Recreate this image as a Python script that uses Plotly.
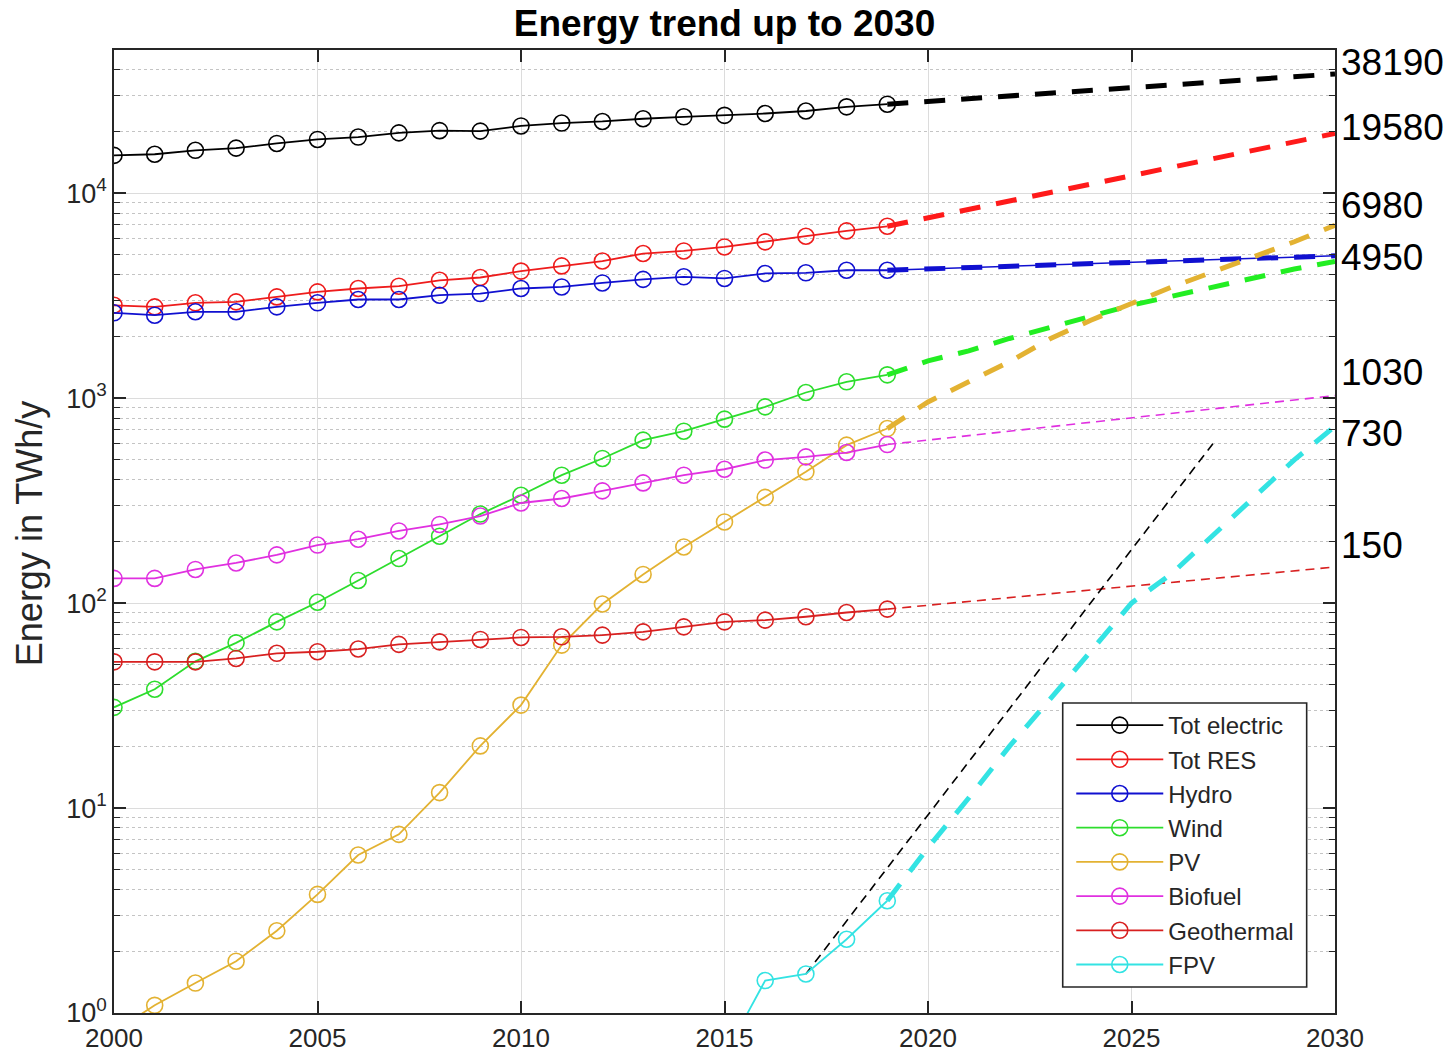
import numpy as np
import plotly.graph_objects as go

# ---- measured data (TWh/y) ----
years = list(range(2000, 2020))
tot_electric = [15300, 15500, 16200, 16600, 17500, 18300, 18800, 19700, 20200, 20100,
                21300, 22000, 22400, 23100, 23600, 24000, 24500, 25200, 26400, 27200]
tot_res = [2840, 2790, 2920, 2950, 3120, 3300, 3430, 3520, 3760, 3880,
           4170, 4420, 4670, 5080, 5230, 5470, 5790, 6170, 6550, 6900]
hydro = [2610, 2540, 2640, 2640, 2790, 2920, 3030, 3030, 3180, 3240,
         3430, 3490, 3650, 3800, 3910, 3840, 4060, 4090, 4210, 4210]
wind = [31, 38, 52, 64, 81, 101, 129, 165, 212, 272,
        336, 421, 508, 624, 690, 790, 907, 1066, 1202, 1300]
pv = [0.81, 1.09, 1.40, 1.79, 2.52, 3.79, 5.9, 7.44, 11.9, 20.1,
      31.8, 62.4, 99, 138, 188, 249, 328, 437, 590, 711]
biofuel = [132, 132, 146, 157, 172, 192, 205, 225, 242, 266,
           308, 324, 353, 386, 421, 450, 499, 517, 543, 594]
geothermal = [51.7, 51.7, 51.7, 53.7, 56.9, 57.9, 59.7, 62.9, 64.7, 66.5,
              68, 68.5, 69.8, 72.4, 76.6, 81, 82.6, 85.8, 90, 93.5]
fpv_years = [2015, 2016, 2017, 2018, 2019]
fpv = [0.62, 1.44, 1.55, 2.29, 3.53]

# ---- projections to 2030 ----
end_years = [2019, 2030]
tot_electric_2030 = 38190
tot_res_2030 = 19580
hydro_2030 = 4950
biofuel_2030 = 1030
geothermal_2030 = 150

proj_years = list(range(2019, 2031))
wind_proj = [1300, 1521, 1702, 1956, 2213, 2512, 2843, 3146, 3494, 3880, 4270, 4650]
pv_proj = [711, 959, 1202, 1504, 1950, 2400, 2897, 3494, 4131, 4887, 5800, 6980]
fpv_proj = [3.53, 6.4, 11.2, 20, 34, 58, 100, 140, 215, 330, 500, 730]

# exponential FPV trend line
fpv_trend_years = [2017, 2027]
fpv_trend = [1.55, 600]

# values printed at the right edge
end_labels = [38190, 19580, 6980, 4950, 1030, 730, 150]
end_label_shift = [11, 6, 20, -2, 23, -7, 22]

FONT = "Liberation Sans, Arial, sans-serif"
AX = "#262626"

C_BLACK = "#000000"
C_RES = "#ee1c1c"
C_HYDRO = "#1010d0"
C_WIND = "#2ddd2d"
C_PV = "#e3b232"
C_BIO = "#e030e0"
C_GEO = "#d82020"
C_FPV = "#33e3e3"

fig = go.Figure()

# projections (drawn first, below the measured series)
def proj(x, y, color, width, dash):
    fig.add_trace(go.Scatter(x=x, y=y, mode="lines", showlegend=False,
                             line=dict(color=color, width=width, dash=dash),
                             hoverinfo="skip"))

THICK = "21px,16px"
THIN = "9px,6px"
proj(end_years, [tot_electric[-1], tot_electric_2030], C_BLACK, 5, THICK)
proj(end_years, [tot_res[-1], tot_res_2030], "#ff1a1a", 5, THICK)
proj(end_years, [hydro[-1], hydro_2030], C_HYDRO, 1.5, "solid")
proj(end_years, [hydro[-1], hydro_2030], C_HYDRO, 5, THICK)
proj(proj_years, wind_proj, "#22ee22", 5, THICK)
proj(proj_years, pv_proj, C_PV, 5, THICK)
proj(end_years, [biofuel[-1], biofuel_2030], C_BIO, 1.6, THIN)
proj(end_years, [geothermal[-1], geothermal_2030], C_GEO, 1.6, THIN)
proj(proj_years, fpv_proj, C_FPV, 5, THICK)
proj(fpv_trend_years, fpv_trend, C_BLACK, 1.6, THIN)

# measured series
def series(name, x, y, color):
    fig.add_trace(go.Scatter(
        x=x, y=y, mode="lines+markers", name=name,
        line=dict(color=color, width=1.8),
        marker=dict(symbol="circle-open", size=16, color=color,
                    line=dict(width=1.6, color=color)),
    ))

series("Tot electric", years, tot_electric, C_BLACK)
series("Tot RES", years, tot_res, C_RES)
series("Hydro", years, hydro, C_HYDRO)
series("Wind", years, wind, C_WIND)
series("PV", years, pv, C_PV)
series("Biofuel", years, biofuel, C_BIO)
series("Geothermal", years, geothermal, C_GEO)
series("FPV", fpv_years, fpv, C_FPV)

for val, dy in zip(end_labels, end_label_shift):
    fig.add_annotation(x=1, xref="paper", xanchor="left", xshift=4,
                       y=np.log10(val), yref="y", yanchor="middle", yshift=dy,
                       text=str(val), showarrow=False,
                       font=dict(family=FONT, size=37, color="#000000"))

fig.add_annotation(x=-0.069, xref="paper", y=0.498, yref="paper",
                   text="Energy in TWh/y", textangle=-90, showarrow=False,
                   xanchor="center", yanchor="middle",
                   font=dict(family=FONT, size=36, color=AX))

# legend frame (the legend itself is drawn transparent on top of it)
LEG_X0, LEG_X1, LEG_Y0, LEG_Y1 = 0.777, 0.9768, 0.027, 0.3219
fig.add_shape(type="rect", xref="paper", yref="paper",
              x0=LEG_X0, x1=LEG_X1, y0=LEG_Y0, y1=LEG_Y1,
              line=dict(color=AX, width=1.6), fillcolor="white", layer="above")

minor_vals = [m * 10 ** d for d in range(5) for m in range(2, 10)]

fig.update_xaxes(
    range=[2000, 2030], tickvals=list(range(2000, 2031, 5)),
    ticks="inside", ticklen=12, tickwidth=1.5, tickcolor=AX,
    showline=True, linecolor=AX, linewidth=1.5, mirror="ticks",
    showgrid=True, gridcolor="#dcdcdc", gridwidth=1.2, zeroline=False,
    tickfont=dict(family=FONT, size=26, color=AX), ticklabelstandoff=1,
    automargin=False,
)
fig.update_yaxes(
    type="log", range=[0, np.log10(5e4)],
    tickvals=[1, 10, 100, 1000, 10000],
    ticktext=["10<sup>0</sup>", "10<sup>1</sup>", "10<sup>2</sup>",
              "10<sup>3</sup>", "10<sup>4</sup>"],
    ticks="inside", ticklen=12, tickwidth=1.5, tickcolor=AX,
    showline=True, linecolor=AX, linewidth=1.5, mirror="ticks",
    showgrid=True, gridcolor="#dcdcdc", gridwidth=1.2, zeroline=False,
    tickfont=dict(family=FONT, size=27, color=AX), automargin=False,
    minor=dict(tickvals=minor_vals, ticks="inside", ticklen=6, tickwidth=1.2,
               tickcolor=AX, showgrid=True, gridcolor="#c4c4c4",
               griddash="dot", gridwidth=1),
)

fig.update_layout(
    width=1456, height=1056,
    margin=dict(l=114, r=121, t=50, b=43, autoexpand=False),
    paper_bgcolor="white", plot_bgcolor="white",
    title=dict(text="<b>Energy trend up to 2030</b>", x=0.5, xref="paper",
               xanchor="center", y=1 - 23 / 1056, yanchor="middle",
               font=dict(family=FONT, size=37, color="#000000")),
    legend=dict(x=LEG_X0 + 0.007, y=LEG_Y1, xanchor="left", yanchor="top",
                bgcolor="rgba(0,0,0,0)", borderwidth=0,
                font=dict(family=FONT, size=24, color=AX),
                itemwidth=87, tracegroupgap=0),
    showlegend=True,
)

fig.write_html("out.html")
